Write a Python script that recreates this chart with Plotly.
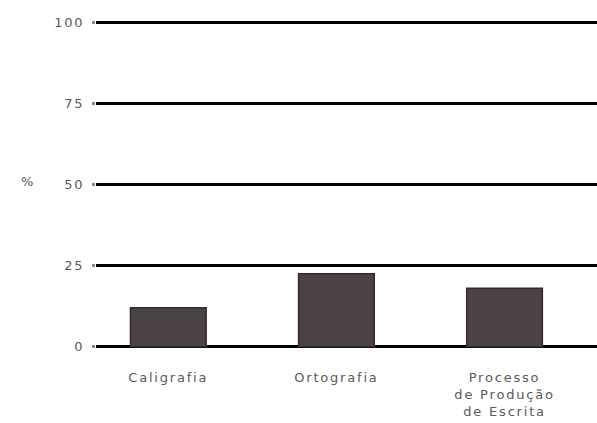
import plotly.graph_objects as go

categories = ["Caligrafia", "Ortografia", "Processo<br>de Produção<br>de Escrita"]
values = [12, 22.5, 18]
y_ticks = [0, 25, 50, 75, 100]
y_ticklabels = ["0", "25", "50", "75", "100"]

fig = go.Figure(go.Bar(
    x=categories, y=values,
    marker=dict(color="#4b4246", line=dict(color="#352a2e", width=1.5)),
    width=0.45,
))

fig.update_layout(
    width=597, height=423, autosize=False,
    margin=dict(l=96, r=0, t=19, b=73),
    plot_bgcolor="white", paper_bgcolor="white",
    showlegend=False,
    font=dict(family="DejaVu Sans", color="#5a5a5a", size=13),
)
fig.update_xaxes(
    range=[-0.43, 2.55], showgrid=False, showline=False, zeroline=False,
    ticks="", ticklabelstandoff=18,
    tickfont=dict(size=13, color="#5a5a5a"),
)
fig.update_yaxes(
    range=[-1, 101], tickvals=y_ticks, ticktext=y_ticklabels,
    showgrid=True, gridcolor="black", gridwidth=3,
    zeroline=True, zerolinecolor="black", zerolinewidth=3,
    showline=False, ticks="outside", ticklen=3, tickcolor="#888888", tickwidth=3,
    ticklabelstandoff=5,
    tickfont=dict(size=13, color="#5a5a5a"),
)
fig.add_annotation(
    text="%", xref="paper", yref="y", x=0, y=51, xanchor="right",
    xshift=-60, showarrow=False, font=dict(size=13, color="#5a5a5a"),
)

page_js = """
var s = document.createElement('style');
s.innerHTML = 'body { margin: 0; overflow: hidden; } .xtick text, .ytick text, .annotation-text { letter-spacing: 1.8px; }';
document.head.appendChild(s);
"""

fig.write_html("out.html", post_script=page_js, config={"displayModeBar": False})
